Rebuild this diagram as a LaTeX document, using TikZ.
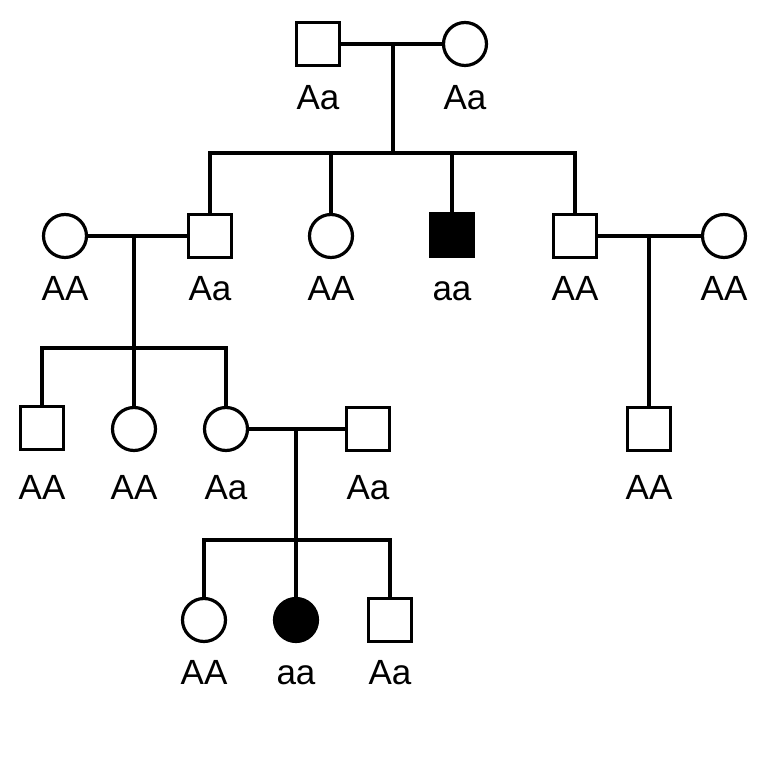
\documentclass[tikz,border=0pt]{standalone}
\usepackage{fontspec}
\setmainfont{Liberation Sans}
\usepackage{tikz}
\usetikzlibrary{calc}

\tikzset{
	male/.style={draw, rectangle, minimum size=21.5pt, inner sep=0pt},
	female/.style={draw, circle, minimum size=21.5pt, inner sep=0pt},
	sick/.style={fill=black},
	geno/.style={inner sep=0pt, text height=12.5pt, text depth=0pt, font=\fontsize{17.5}{21}\selectfont}
}

\begin{document}
\begin{tikzpicture}[x=0.5pt, y=-0.5pt, line width=1.6pt]
		\useasboundingbox (0,0) rectangle (777,774);
		%first generation
		\node[male] (f1) at (318,44) {};
		\node[female] (m1) at (465,44) {};
		\node[geno] at (318,97) {Aa};
		\node[geno] at (465,97) {Aa};
		%second generation
		\node[female] (w2) at (65,236) {};
		\node[male] (c1) at (210,236) {};
		\node[female] (c2) at (331,236) {};
		\node[male,sick] (c3) at (452,235) {};
		\node[male] (c4) at (575,236) {};
		\node[female] (w4) at (724,236) {};
		\node[geno] at (65,288) {AA};
		\node[geno] at (210,288) {Aa};
		\node[geno] at (331,288) {AA};
		\node[geno] at (452,288) {aa};
		\node[geno] at (575,288) {AA};
		\node[geno] at (724,288) {AA};
		%third generation
		\node[male] (d1) at (42,428) {};
		\node[female] (d2) at (134,429) {};
		\node[female] (d3) at (226,429) {};
		\node[male] (h3) at (368,429) {};
		\node[male] (e1) at (649,429) {};
		\node[geno] at (42,487) {AA};
		\node[geno] at (134,487) {AA};
		\node[geno] at (226,487) {Aa};
		\node[geno] at (368,487) {Aa};
		\node[geno] at (649,487) {AA};
		%fourth generation
		\node[female] (k1) at (204,620) {};
		\node[female,sick] (k2) at (296,620) {};
		\node[male] (k3) at (390,620) {};
		\node[geno] at (204,672) {AA};
		\node[geno] at (296,672) {aa};
		\node[geno] at (390,672) {Aa};

		%marriages and sibships
		\coordinate (x1) at (393,44);
		\coordinate (s1) at (393,153);
		\draw (f1) -- (m1);
		\draw (x1) -- (s1);
		\draw (c1.north) -- (c1.north |- s1) -- (c4.north |- s1) -- (c4.north);
		\draw (c2.north) -- (c2.north |- s1);
		\draw (c3.north) -- (c3.north |- s1);

		\coordinate (x2) at (134,236);
		\coordinate (s2) at (134,348);
		\draw (w2) -- (c1);
		\draw (x2) -- (s2);
		\draw (d1.north) -- (d1.north |- s2) -- (d3.north |- s2) -- (d3.north);
		\draw (d2.north) -- (d2.north |- s2);

		\coordinate (x4) at (649,236);
		\draw (c4) -- (w4);
		\draw (x4) -- (e1.north);

		\coordinate (x3) at (296,429);
		\coordinate (s3) at (296,540);
		\draw (d3) -- (h3);
		\draw (x3) -- (s3);
		\draw (k1.north) -- (k1.north |- s3) -- (k3.north |- s3) -- (k3.north);
		\draw (k2.north) -- (k2.north |- s3);
\end{tikzpicture}
\end{document}
